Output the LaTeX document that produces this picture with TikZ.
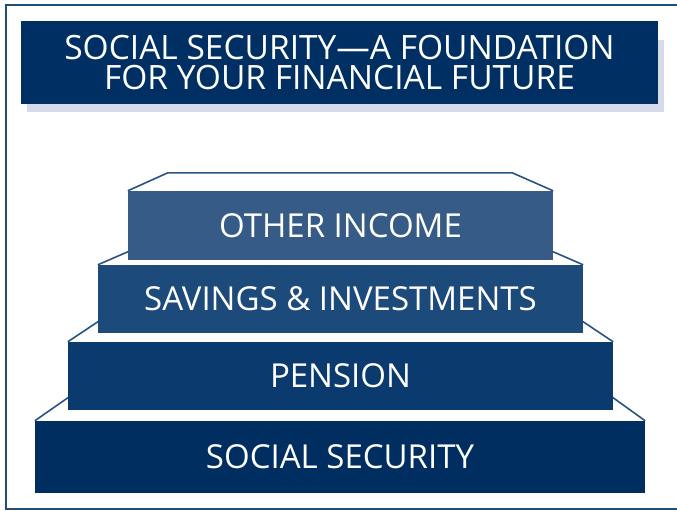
\documentclass[tikz,border=0pt]{standalone}
\usepackage{fontspec}
\setmainfont{Open Sans}
\usepackage{xcolor}
\usetikzlibrary{calc}
\definecolor{frameblue}{HTML}{1F4E79}
\definecolor{titleblue}{HTML}{003063}
\definecolor{shadowgray}{HTML}{D5DBE8}
\definecolor{otherblue}{HTML}{365B87}
\definecolor{saveblue}{HTML}{1C4A7A}
\definecolor{penblue}{HTML}{0B3B6E}
\definecolor{socblue}{HTML}{002E60}
\definecolor{faceblue}{HTML}{2A5283}
\tikzset{
  stepbox/.style={inner sep=0pt, text=white, font=\fontsize{33}{35}\selectfont},
  face/.style={draw=faceblue, line width=1.6pt, fill=white, line join=miter}
}

\begin{document}
\begin{tikzpicture}[x=1pt, y=-1pt]
			\useasboundingbox (0,0) rectangle (677,511);
			%   %   %   %   %   %   %   %   %   %   %
			%   Outer frame
				\draw[frameblue, line width=2pt] (677,5) -- (5.5,5) -- (5.5,509) -- (677,509);
			%   %   %   %   %   %   %   %   %   %   %
			%   Title
				\fill[shadowgray] (27,40) rectangle (664,112);
				\node[stepbox, fill=titleblue, minimum width=637pt, minimum height=83pt,
				align=center, font=\fontsize{33.5}{30.5}\selectfont] (title) at (339.5,62.5)
				{SOCIAL SECURITY—A FOUNDATION\\FOR YOUR FINANCIAL FUTURE};
			%   %   %   %   %   %   %   %   %   %   %
			%   Social Security
				\node[stepbox, fill=socblue, minimum width=610pt, minimum height=72pt] (soc) at (340,457) {};
				\draw[face] (soc.north west) -- ($(soc.north west)+(33,-23)$)
				-- ($(soc.north east)+(-32,-23)$) -- (soc.north east);
				\node[stepbox, fill=socblue, minimum width=610pt, minimum height=72pt] at (soc) {SOCIAL SECURITY};
			%   %   %   %   %   %   %   %   %   %   %
			%   Pension
				\node[stepbox, fill=penblue, minimum width=545pt, minimum height=68pt] (pen) at (340.5,376) {PENSION};
				\draw[face] (pen.north west) -- ($(pen.north west)+(30,-20)$)
				-- ($(pen.north east)+(-30,-20)$) -- (pen.north east);
			%   %   %   %   %   %   %   %   %   %   %
			%   Savings & Investments
				\node[stepbox, fill=saveblue, minimum width=485pt, minimum height=68pt] (save) at (340.5,299) {SAVINGS \& INVESTMENTS};
				\draw[face] (save.north west) -- ($(save.north west)+(30,-13)$)
				-- ($(save.north east)+(-30,-13)$) -- (save.north east);
			%   %   %   %   %   %   %   %   %   %   %
			%   Other Income
				\node[stepbox, fill=otherblue, minimum width=425pt, minimum height=69pt] (other) at (340.5,225.5) {OTHER INCOME};
				\draw[face] (other.north west) -- ($(other.north west)+(40,-18)$)
				-- ($(other.north east)+(-41,-18)$) -- (other.north east);
		\end{tikzpicture}
\end{document}
